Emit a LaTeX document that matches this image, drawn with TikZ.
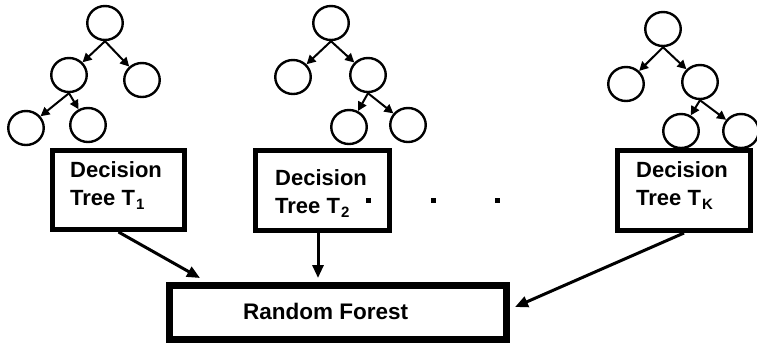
\documentclass[tikz,border=0pt]{standalone}
\usepackage{fontspec}
\setmainfont{Liberation Sans}
\usetikzlibrary{arrows.meta,shapes.geometric}
\begin{document}
\begin{tikzpicture}[x=1pt,y=-1pt,
  tnode/.style={ellipse,draw,line width=2.4pt,minimum width=35.5pt,minimum height=34pt,inner sep=0pt,fill=white},
  tedge/.style={line width=2pt,-{Triangle[length=9pt,width=9pt]}},
  dtbox/.style={draw,line width=5pt,fill=white,inner sep=0pt},
  rfbox/.style={draw,line width=7pt,fill=white,inner sep=0pt,minimum width=337pt,minimum height=54pt},
  lbl/.style={inner sep=0pt,anchor=base west,font=\bfseries\fontsize{22}{26}\selectfont},
  conn/.style={line width=3pt,-{Triangle[length=13pt,width=11pt]}},
  sqdot/.style={fill=black,minimum size=5pt,inner sep=0pt}
]
\newcommand{\mysub}[1]{\hspace{1pt}\raisebox{-4pt}{\fontsize{15}{15}\selectfont #1}}
\useasboundingbox (0,0) rectangle (757,346);
\fill[white] (0,0) rectangle (757,346);

% tree 1
\node[tnode] (r1) at (105,23) {};
\node[tnode] (l1) at (69,75) {};
\node[tnode] (q1) at (142,80) {};
\node[tnode] (ll1) at (26,128) {};
\node[tnode] (lr1) at (88,125) {};
\draw[tedge] (r1.south) -- (l1);
\draw[tedge] (r1.south) -- (q1);
\draw[tedge] (l1.south) -- (ll1);
\draw[tedge] (l1.south) -- (lr1);

% tree 2
\node[tnode] (r2) at (331,23) {};
\node[tnode] (l2) at (293,77) {};
\node[tnode] (q2) at (368,75) {};
\node[tnode] (rl2) at (349,127) {};
\node[tnode] (rr2) at (408,125) {};
\draw[tedge] (r2.south) -- (l2);
\draw[tedge] (r2.south) -- (q2);
\draw[tedge] (q2.south) -- (rl2);
\draw[tedge] (q2.south) -- (rr2);

% tree 3
\node[tnode] (r3) at (663,29) {};
\node[tnode] (l3) at (626,84) {};
\node[tnode] (q3) at (700,82) {};
\node[tnode] (rl3) at (681,131) {};
\node[tnode] (rr3) at (741,131) {};
\draw[tedge] (r3.south) -- (l3);
\draw[tedge] (r3.south) -- (q3);
\draw[tedge] (q3.south) -- (rl3);
\draw[tedge] (q3.south) -- (rr3);

% decision tree boxes
\node[dtbox,minimum width=132pt,minimum height=79pt] (b1) at (118.5,190) {};
\node[dtbox,minimum width=134pt,minimum height=80pt] (b2) at (322.5,190.5) {};
\node[dtbox,minimum width=133pt,minimum height=80pt] (b3) at (684,190.5) {};

\node[lbl] (d1) at (70,177) {Decision};
\node[lbl] (t1) at (70,205) {Tree T\mysub{1}};
\node[lbl] (d2) at (275,185) {Decision};
\node[lbl] (t2) at (275,213) {Tree T\mysub{2}};
\node[lbl] (d3) at (636,177) {Decision};
\node[lbl] (t3) at (636,205) {Tree T\mysub{K}};

\node[sqdot] (p1) at (368,200) {};
\node[sqdot] (p2) at (433,200) {};
\node[sqdot] (p3) at (497,200) {};

% random forest
\node[rfbox] (rf) at (338,312.5) {};
\node[lbl,font=\bfseries\fontsize{22.5}{26}\selectfont] (rft) at (243,319) {Random Forest};

\coordinate (e1) at (200,278);
\coordinate (e2) at (318,278);
\coordinate (e3) at (515,307);
\draw[conn] (b1.south) -- (e1);
\draw[conn] (b2.south -| e2) -- (e2);
\draw[conn] (b3.south) -- (e3);
\end{tikzpicture}
\end{document}
